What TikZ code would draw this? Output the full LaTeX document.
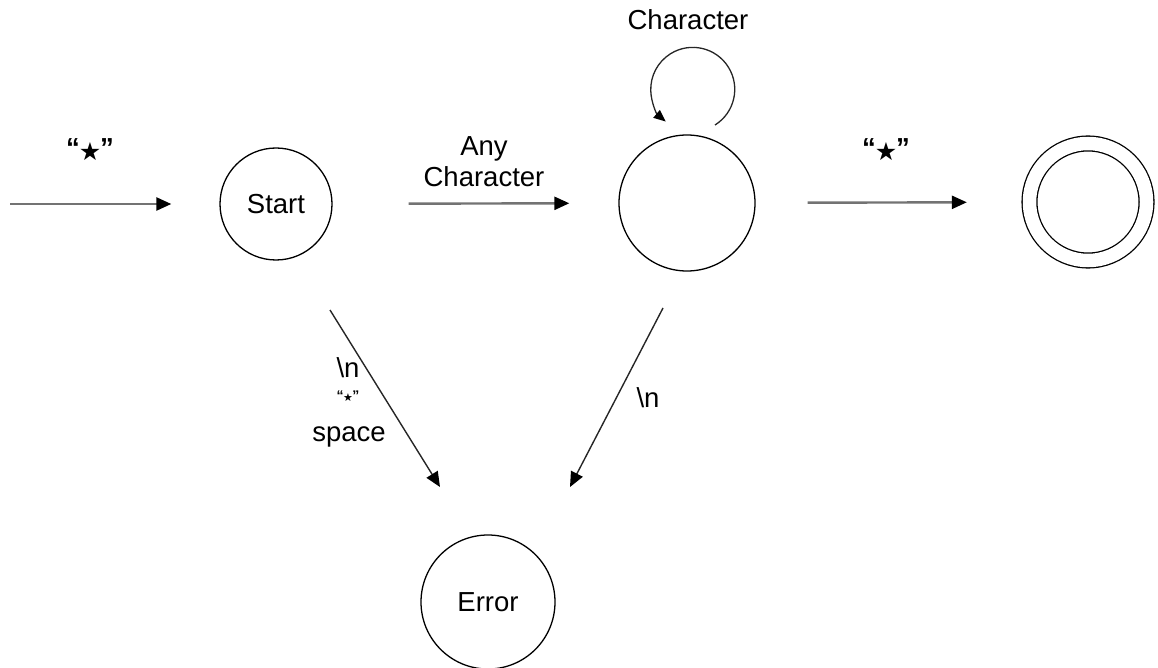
\documentclass[tikz,border=0pt]{standalone}
\usepackage{fontspec}
\setmainfont{Liberation Sans}
\newfontfamily\symfont{DejaVu Sans}
\usetikzlibrary{arrows.meta,calc}
\tikzset{
    state/.style={circle, draw, line width=1.3pt, minimum size=#1, inner sep=0pt,
        font=\fontsize{27.5}{31}\selectfont},
    accept/.style={circle, draw, double, double distance=13.5pt, line width=1.3pt,
        minimum size=117pt, inner sep=0pt},
    move/.style={-{Triangle[length=15pt,width=13pt,color=black]}, line width=2.4pt, black!55},
    slant/.style={move, line width=1.4pt, black!85},
    lbl/.style={font=\fontsize{27.5}{31}\selectfont, align=center, inner sep=0pt}
}
% quoted star as used on the transitions, star size as optional argument
\newcommand{\quotestar}[1][25]{{\bfseries\char"201C}\kern-0.04em\raisebox{-0.11em}{\symfont\fontsize{#1}{#1}\selectfont\char"2605}\kern-0.04em{\bfseries\char"201D}}

\begin{document}
\begin{tikzpicture}[x=1pt, y=-1pt]
  \useasboundingbox (0,0) rectangle (1158,668);

  \coordinate (in) at (10,204);
  \node (start) [state=112pt] at (276,204) {Start};
  \node (mid) [state=136pt] at (687,203) {};
  \node (final) [accept] at (1088,202) {};
  \node (error) [state=134pt] at (488,602) {Error};

  \node (l_in) [lbl] at (90,150) {\quotestar};
  \node (l_any) [lbl] at (484,162) {Any\\Character};
  \node (l_out) [lbl] at (886,150) {\quotestar};
  \node (l_loop) [lbl] at (688,20) {Character};
  \node (l_nl) [lbl] at (348,368) {\textbackslash n};
  \node (l_q) [lbl, font=\fontsize{14}{14}\selectfont] at (348,396) {\quotestar[11]};
  \node (l_sp) [lbl] at (349,437) {space};
  \node (l_nr) [lbl] at (648,398) {\textbackslash n};

  \draw (in) edge [move, shorten >=48pt] (start);
  \draw (start) edge [move, shorten <=76pt, shorten >=49pt] (mid);
  \draw (mid) edge [move, shorten <=52pt, shorten >=62pt] (final);
  \draw [slant] ($(start)+(54,106)$) -- ($(error)+(-48,-115)$);
  \draw [slant] ($(mid)+(-24,105)$) -- ($(error)+(82,-115)$);
  \draw [slant, line width=1.3pt, -{Triangle[length=12pt,width=10pt,color=black]}]
    ($(mid)+(28,-78)$) arc [start angle=58, end angle=-230, radius=42];
\end{tikzpicture}
\end{document}
